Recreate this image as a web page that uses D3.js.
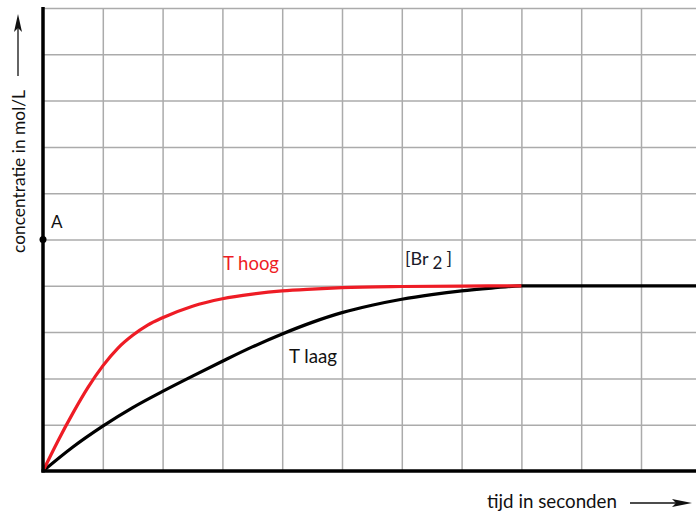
<!DOCTYPE html>
<html><head><meta charset="utf-8">
<script src="https://cdn.jsdelivr.net/npm/d3@7"></script>
<style>html,body{margin:0;padding:0;background:#fff;overflow:hidden}text{font-family:Lato,"Open Sans",sans-serif}</style>
</head><body><svg id="c" width="696" height="516"></svg>
<script>
// Data (grid units)
const gridTicks = [0,1,2,3,4,5,6,7,8,9,10,11];
const tLaagX = [0,0.5,1,1.5,2,2.5,3,3.5,4,4.5,5,5.5,6,6.5,7,7.5,8,11.5];
const tLaagY = [0,0.52,0.97,1.37,1.72,2.05,2.37,2.68,2.96,3.21,3.42,3.58,3.71,3.81,3.89,3.95,4.0,4.0];
const tHoogX = [0,0.25,0.5,0.75,1,1.25,1.5,1.75,2,2.5,3,3.5,4,4.5,5,6,7,8];
const tHoogY = [0,0.65,1.25,1.8,2.27,2.65,2.93,3.15,3.31,3.56,3.72,3.82,3.89,3.93,3.96,3.985,3.995,4.0];
const pointA = {x:0, y:5, label:"A"};
const labels = {hoog:"T hoog", laag:"T laag", xTitle:"tijd in seconden", yTitle:"concentratie in mol/L"};

const svg = d3.select("#c");
const x = d3.scaleLinear().domain([0,10]).range([43,641]);
const y = d3.scaleLinear().domain([0,10]).range([471,8]);

// grid via axes
svg.append("g").attr("transform","translate(0,8)")
  .call(d3.axisBottom(x).tickValues(gridTicks.slice(1)).tickSize(463).tickFormat(""))
  .call(g=>{g.select(".domain").remove();g.selectAll("line").attr("stroke","#ababab").attr("stroke-width",1.5);});
svg.append("g").attr("transform","translate(43,0)")
  .call(d3.axisRight(y).tickValues(gridTicks.slice(1,11)).tickSize(660).tickFormat(""))
  .call(g=>{g.select(".domain").remove();g.selectAll("line").attr("stroke","#ababab").attr("stroke-width",1.5);});

const line = d3.line().x(d=>x(d[0])).y(d=>y(d[1])).curve(d3.curveMonotoneX);
svg.append("path").datum(tLaagX.map((v,i)=>[v,tLaagY[i]]))
  .attr("d",line).attr("fill","none").attr("stroke","#000").attr("stroke-width",3.2);
svg.append("path").datum(tHoogX.map((v,i)=>[v,tHoogY[i]]))
  .attr("d",line).attr("fill","none").attr("stroke","#ee1c25").attr("stroke-width",3.2);

// axes lines
svg.append("line").attr("x1",x(0)).attr("x2",x(0)).attr("y1",7).attr("y2",y(0)+1.5).attr("stroke","#000").attr("stroke-width",3.5);
svg.append("line").attr("x1",x(0)-1.5).attr("x2",696).attr("y1",y(0)).attr("y2",y(0)).attr("stroke","#000").attr("stroke-width",3.5);

// point A
svg.append("circle").attr("cx",x(pointA.x)).attr("cy",y(pointA.y)).attr("r",3.5).attr("fill","#000");
svg.append("text").attr("x",51).attr("y",228).attr("font-size",17).attr("fill","#111").text(pointA.label);

// labels
svg.append("text").attr("x",223).attr("y",270).attr("font-size",19).attr("fill","#ee1c25")
  .attr("textLength",56).attr("lengthAdjust","spacingAndGlyphs").text(labels.hoog);
svg.append("text").attr("x",289).attr("y",363).attr("font-size",19).attr("fill","#111")
  .attr("textLength",48).attr("lengthAdjust","spacingAndGlyphs").text(labels.laag);
const br = svg.append("text").attr("x",405).attr("y",265).attr("font-size",18).attr("fill","#1a1a2a");
br.append("tspan").text("[Br");
br.append("tspan").attr("dx",4).attr("dy",4).attr("font-size",17).text("2");
br.append("tspan").attr("dx",4).attr("dy",-4).text("]");

svg.append("text").attr("x",487).attr("y",508).attr("font-size",19).attr("fill","#111")
  .attr("textLength",130).attr("lengthAdjust","spacingAndGlyphs").text(labels.xTitle);
svg.append("text").attr("transform","translate(25,253) rotate(-90)").attr("font-size",18).attr("fill","#111")
  .attr("textLength",163).attr("lengthAdjust","spacingAndGlyphs").text(labels.yTitle);

// arrows
svg.append("line").attr("x1",18).attr("x2",18).attr("y1",76).attr("y2",24).attr("stroke","#111").attr("stroke-width",1.3);
svg.append("path").attr("d","M18,14 L14,32 L18,28 L22,32 Z").attr("fill","#111");
svg.append("line").attr("x1",630).attr("x2",680).attr("y1",503).attr("y2",503).attr("stroke","#111").attr("stroke-width",1.3);
svg.append("path").attr("d","M692,503 L672,499 L676,503 L672,507 Z").attr("fill","#111");
</script></body></html>
